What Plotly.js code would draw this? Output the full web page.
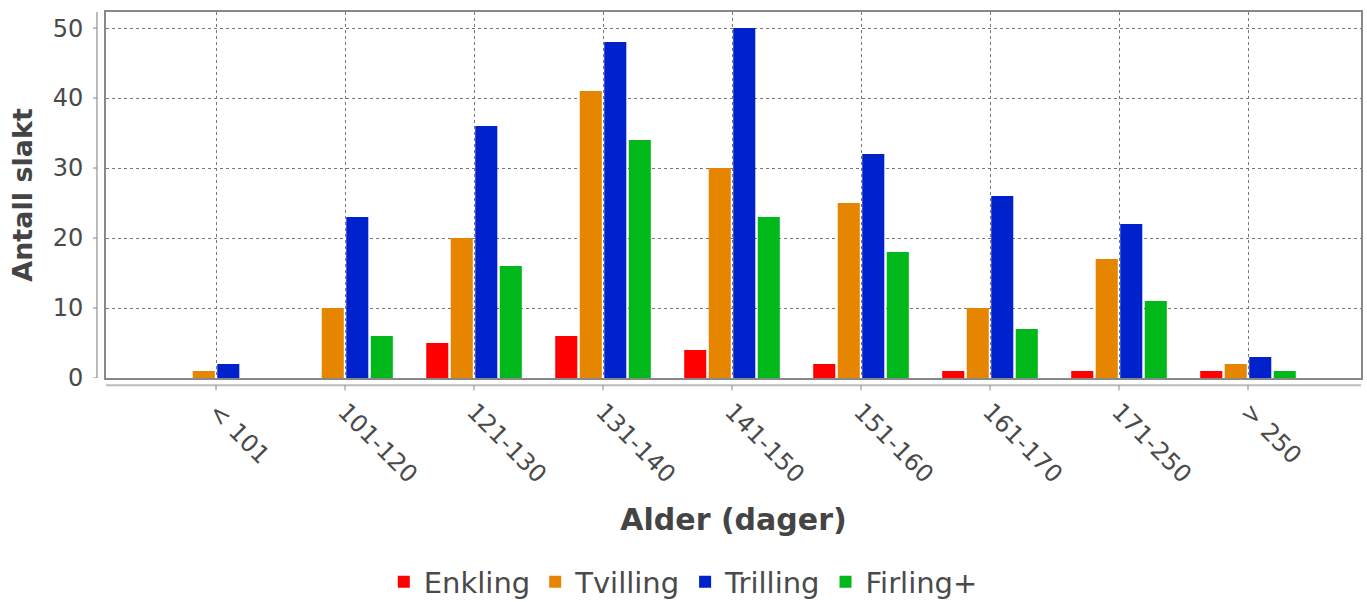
<!DOCTYPE html>
<html><head><meta charset="utf-8">
<script src="https://cdn.plot.ly/plotly-3.0.1.min.js"></script>
<style>html,body{margin:0;padding:0;background:#fff}</style>
</head><body>
<div id="chart" style="width:1367px;height:602px"></div>
<script>
const categories = ['< 101','101-120','121-130','131-140','141-150','151-160','161-170','171-250','> 250'];
const enkling  = [0, 0, 5, 6, 4, 2, 1, 1, 1];
const tvilling = [1, 10, 20, 41, 30, 25, 10, 17, 2];
const trilling = [2, 23, 36, 48, 50, 32, 26, 22, 3];
const firling  = [0, 6, 16, 34, 23, 18, 7, 11, 1];
const seriesNames = ['Enkling','Tvilling','Trilling','Firling+'];
const seriesColors = ['#ff0000','#e68500','#0022cc','#00b81a'];
const yTicks = [0, 10, 20, 30, 40, 50];

const series = [enkling, tvilling, trilling, firling];
const traces = series.map((vals, i) => ({
  type: 'bar', x: categories, y: vals, name: seriesNames[i],
  marker: {color: seriesColors[i]}, hoverinfo: 'x+y+name'
}));

const gray = '#888888';
const shapes = [];
shapes.push({type:'line', xref:'paper', yref:'paper', x0:0, x1:1, y0:-0.02, y1:-0.02, line:{color:'#bbbbbb', width:2}});
shapes.push({type:'line', xref:'paper', yref:'paper', x0:-0.0072, x1:-0.0072, y0:0, y1:1, line:{color:'#bbbbbb', width:2}});
categories.forEach(c => shapes.push({type:'line', xref:'x', yref:'paper', x0:c, x1:c, y0:-0.02, y1:-0.034, line:{color:gray, width:1}}));
yTicks.forEach(v => shapes.push({type:'line', xref:'paper', yref:'y', x0:-0.0072, x1:-0.0104, y0:v, y1:v, line:{color:gray, width:1}}));

const layout = {
  width: 1367, height: 602,
  margin: {l: 106, r: 6, t: 12, b: 224, autoexpand: false},
  paper_bgcolor: '#fff', plot_bgcolor: '#fff',
  font: {family: 'DejaVu Sans, sans-serif', color: '#444', size: 18},
  bargap: 0.24, bargroupgap: 0.1, barmode: 'group',
  xaxis: {
    type: 'category', range: [-0.853, 8.876], automargin: false,
    showline: true, mirror: true, linecolor: gray, linewidth: 2,
    showgrid: true, gridcolor: '#777', griddash: '3px,3px', gridwidth: 1,
    ticks: '', tickangle: 45, ticklabelstandoff: 8,
    tickfont: {size: 24, color: '#4a4a4a'},
    title: {text: 'Alder (dager)', font: {size: 30, color: '#444', weight: 'bold'}, standoff: 22},
    zeroline: false, fixedrange: true
  },
  yaxis: {
    range: [0, 52.3], tickvals: yTicks, automargin: false,
    showline: true, mirror: true, linecolor: gray, linewidth: 2,
    showgrid: true, gridcolor: '#777', griddash: '3px,3px', gridwidth: 1,
    ticks: '', ticklabelstandoff: 16,
    tickfont: {size: 24, color: '#4a4a4a'},
    title: {text: 'Antall slakt', font: {size: 27, color: '#444', weight: 'bold'}, standoff: 12},
    zeroline: false, fixedrange: true
  },
  legend: {orientation: 'h', x: 0.46, xanchor: 'center', y: -0.557, yanchor: 'middle',
    font: {size: 29, color: '#4a4a4a'}, itemwidth: 30, tracegroupgap: 0},
  shapes: shapes,
  showlegend: true
};
Plotly.newPlot('chart', traces, layout, {displayModeBar: false, staticPlot: true});
</script>
</body></html>
